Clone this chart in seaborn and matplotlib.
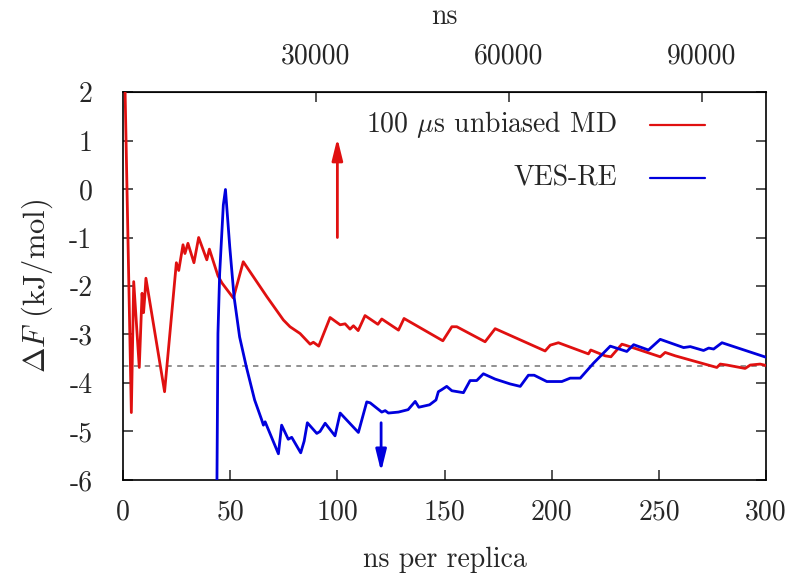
"""
Free energy difference convergence: unbiased MD vs VES-RE
"""

import numpy as np
import pandas as pd
import matplotlib
matplotlib.use("Agg")
import matplotlib.pyplot as plt
from matplotlib.lines import Line2D
import seaborn as sns

# 100 us unbiased MD (x in ns per replica)
md_x = [0.2, 3.9, 5.0, 7.6, 8.9, 9.6, 10.2, 10.7, 19.4, 24.9, 26.0, 28.0, 28.9,
        30.3, 33.1, 35.3, 39.1, 40.3, 44.3, 46.2, 51.5, 56.1, 67.1, 74.8, 77.9,
        82.6, 87.3, 88.8, 91.3, 96.6, 101.3, 103.6, 105.9, 107.5, 109.7, 112.9,
        118.9, 120.7, 128.5, 131.1, 149.2, 153.4, 155.7, 168.9, 173.6, 196.9,
        199.3, 203.1, 217.1, 218.2, 224.9, 227.6, 232.7, 234.3, 250.6, 252.9,
        257.6, 277.0, 278.6, 281.7, 290.2, 292.6, 294.9, 297.2, 300.0]
md_y = [3.8, -4.61, -1.91, -3.68, -2.15, -2.55, -2.2, -1.84, -4.18, -1.52, -1.68,
        -1.15, -1.33, -1.12, -1.52, -1.0, -1.46, -1.24, -1.79, -1.94, -2.25, -1.5,
        -2.22, -2.70, -2.84, -2.98, -3.2, -3.16, -3.24, -2.65, -2.8, -2.78, -2.89,
        -2.82, -2.92, -2.61, -2.79, -2.68, -2.91, -2.67, -3.13, -2.84, -2.84,
        -3.15, -2.88, -3.34, -3.22, -3.17, -3.4, -3.32, -3.44, -3.46, -3.2, -3.22,
        -3.46, -3.37, -3.44, -3.68, -3.61, -3.63, -3.7, -3.63, -3.62, -3.61, -3.64]

# VES-RE
ves_x = [43.6, 44.3, 45.1, 46.8, 47.8, 49.8, 51.8, 54.4, 57.5, 61.4, 64.7, 65.5,
         66.3, 72.5, 74.0, 77.1, 78.7, 82.9, 84.5, 86.0, 90.4, 91.9, 94.3, 98.9,
         101.3, 109.8, 113.7, 115.3, 120.7, 122.3, 123.8, 128.5, 133.0, 136.3,
         138.0, 143.0, 146.0, 147.1, 148.6, 151.0, 153.4, 158.8, 161.9, 165.0,
         168.1, 173.6, 180.6, 185.3, 189.1, 191.8, 197.7, 204.7, 208.6, 213.3,
         219.5, 227.3, 235.0, 238.2, 245.1, 250.6, 261.5, 264.6, 270.8, 273.2,
         275.5, 279.4, 300.0]
ves_y = [-7.5, -2.98, -1.74, -0.33, -0.01, -1.19, -2.22, -3.05, -3.66, -4.35, -4.76,
         -4.87, -4.8, -5.46, -4.87, -5.16, -5.12, -5.44, -5.2, -4.82, -5.04, -5.0,
         -4.83, -5.09, -4.62, -5.02, -4.39, -4.41, -4.6, -4.57, -4.62, -4.6, -4.55,
         -4.38, -4.5, -4.45, -4.35, -4.18, -4.14, -4.07, -4.16, -4.2, -3.95, -3.95,
         -3.81, -3.92, -4.02, -4.07, -3.84, -3.84, -3.97, -3.97, -3.9, -3.9, -3.59,
         -3.24, -3.35, -3.21, -3.32, -3.1, -3.27, -3.25, -3.33, -3.28, -3.3, -3.17,
         -3.47]

ref_value = -3.65
yticks = [2, 1, 0, -1, -2, -3, -4, -5, -6]
xticks = [0, 50, 100, 150, 200, 250, 300]
top_ticks = [30000, 60000, 90000]

RED = '#e01010'
BLUE = '#0000dd'
FS = 20

sns.set_style("ticks")
plt.rcParams['font.family'] = ['cmr10', 'DejaVu Serif']
plt.rcParams['mathtext.fontset'] = 'cm'
plt.rcParams['axes.unicode_minus'] = False

fig = plt.figure(figsize=(7.96, 5.78), dpi=100)
ax = fig.add_axes([0.1545, 0.1696, 0.808, 0.6712])

md = pd.DataFrame({'x': md_x, 'y': md_y})
ves = pd.DataFrame({'x': ves_x, 'y': ves_y})

ax.axhline(ref_value, color='#888888', lw=1.3, ls=(0, (3, 3)), zorder=1)
sns.lineplot(data=md, x='x', y='y', ax=ax, color=RED, lw=2.0, sort=False,
             estimator=None, zorder=3)
sns.lineplot(data=ves, x='x', y='y', ax=ax, color=BLUE, lw=2.0, sort=False,
             estimator=None, zorder=4)

# arrows
ax.annotate('', xy=(100, 1.05), xytext=(100, -1.0),
            arrowprops=dict(arrowstyle='-|>,head_length=0.65,head_width=0.16',
                            color=RED, lw=2, mutation_scale=20, shrinkA=0, shrinkB=0))
ax.annotate('', xy=(120.4, -5.83), xytext=(120.4, -4.82),
            arrowprops=dict(arrowstyle='-|>,head_length=0.65,head_width=0.16',
                            color=BLUE, lw=2, mutation_scale=20, shrinkA=0, shrinkB=0))

ax.set_xlim(0, 300)
ax.set_ylim(-6, 2)
ax.set_xticks(xticks)
ax.set_xticklabels([str(v) for v in xticks])
ax.set_yticks(yticks)
ax.set_yticklabels([str(v) for v in yticks])
ax.tick_params(axis='both', direction='in', length=7, width=1.1, labelsize=FS)
ax.tick_params(axis='x', pad=14)
ax.tick_params(axis='y', pad=22, right=True)
for sp in ax.spines.values():
    sp.set_linewidth(1.2)
    sp.set_color('black')

ax.set_xlabel('ns per replica', fontsize=FS, labelpad=15)
ax.set_ylabel(r'$\Delta F$ (kJ/mol)', fontsize=22, labelpad=10)

top = ax.secondary_xaxis('top', functions=(lambda v: v * 1000 / 3, lambda v: v * 3 / 1000))
top.set_xticks(top_ticks)
top.set_xticklabels([str(v) for v in top_ticks])
top.tick_params(direction='in', length=7, width=1.1, labelsize=FS, pad=16)
top.set_xlabel('ns', fontsize=FS, labelpad=14)

# legend drawn gnuplot style: text right-aligned, sample line on the right
for label, col, yy in [(r'100 $\mu$s unbiased MD', RED, 0.915),
                       ('VES-RE', BLUE, 0.778)]:
    ax.text(0.768, yy, label, transform=ax.transAxes, ha='right', va='center',
            fontsize=FS)
    ax.add_line(Line2D([0.820, 0.905], [yy, yy], transform=ax.transAxes,
                       color=col, lw=1.6))

plt.savefig('out.png', dpi=100)
plt.close()
